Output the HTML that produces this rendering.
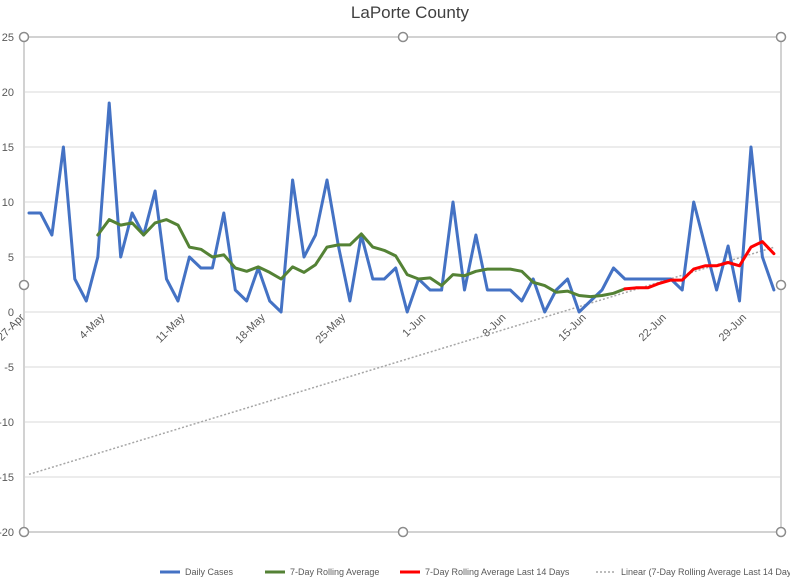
<!DOCTYPE html>
<html><head><meta charset="utf-8"><style>
html,body{margin:0;padding:0;background:#fff;}
svg{display:block;font-family:"Liberation Sans",sans-serif;}
</style></head><body>
<svg id="chart" width="790" height="586" viewBox="0 0 790 586" xmlns="http://www.w3.org/2000/svg">
<rect x="0" y="0" width="790" height="586" fill="#fff"/>
<text x="410" y="18" text-anchor="middle" font-size="17" fill="#404040">LaPorte County</text>
<g id="grid"></g>
<g id="yticks"></g>
<g id="xticks"></g>
<g id="series"></g>
<g id="frame"></g>
<g id="legend"></g>
</svg>
<script>
const yTicks=[25,20,15,10,5,0,-5,-10,-15,-20];
const dateLabels=["27-Apr","4-May","11-May","18-May","25-May","1-Jun","8-Jun","15-Jun","22-Jun","29-Jun"];
const dailyCases=[9,9,7,15,3,1,5,19,5,9,7,11,3,1,5,4,4,9,2,1,4,1,0,12,5,7,12,6,1,7,3,3,4,0,3,2,2,10,2,7,2,2,2,1,3,0,2,3,0,1,2,4,3,3,3,3,3,2,10,6,2,6,1,15,5,2];
const rollStart=6;
const rollingAvg=[7,8.4,7.9,8.1,7,8.1,8.4,7.9,5.9,5.7,5,5.2,4,3.7,4.1,3.6,3,4.1,3.6,4.3,5.9,6.1,6.1,7.1,5.9,5.6,5.1,3.4,3,3.1,2.4,3.4,3.3,3.7,3.9,3.9,3.9,3.7,2.7,2.4,1.8,1.9,1.5,1.4,1.5,1.7,2.1];
const lastStart=52;
const last14Avg=[2.1,2.2,2.2,2.6,2.9,2.9,3.9,4.2,4.2,4.5,4.2,5.9,6.4,5.3];

const NS="http://www.w3.org/2000/svg";
function mk(tag,attrs,parent){const e=document.createElementNS(NS,tag);for(const k in attrs)e.setAttribute(k,attrs[k]);parent.appendChild(e);return e;}
const X=i=>29+i*11.46;
const Y=v=>312-v*11;
const grid=document.getElementById('grid'),yt=document.getElementById('yticks'),xt=document.getElementById('xticks'),ser=document.getElementById('series'),fr=document.getElementById('frame'),lg=document.getElementById('legend');

yTicks.forEach(v=>{
  const l=mk('line',{x1:25,x2:780,y1:Y(v),y2:Y(v),stroke:'#d9d9d9','stroke-width':1},grid);
  
  
  const t=mk('text',{x:14,y:Y(v)+4,'text-anchor':'end','font-size':11,fill:'#595959'},yt);
  
  
  t.textContent=v;
});
dateLabels.forEach((d,k)=>{
  const x=X(k*7)-4;
  const t=mk('text',{x:x,y:318,'text-anchor':'end','font-size':11,fill:'#595959',transform:`rotate(-45 ${x} 318)`},xt);
  
  
  t.textContent=d;
});

// trendline: linear regression on last-14 series
let n=last14Avg.length,sx=0,sy=0,sxx=0,sxy=0;
last14Avg.forEach((v,j)=>{const i=lastStart+j;sx+=i;sy+=v;sxx+=i*i;sxy+=i*v;});
const slope=(n*sxy-sx*sy)/(n*sxx-sx*sx),icpt=(sy-slope*sx)/n;
const lastIdx=dailyCases.length-1;
const tl=mk('line',{x1:X(0),y1:Y(icpt),x2:X(lastIdx),y2:Y(icpt+slope*lastIdx),stroke:'#a6a6a6','stroke-width':1.5,'stroke-dasharray':'2 2'},ser);



function poly(vals,start,color,name){
  const p=vals.map((v,j)=>X(start+j).toFixed(1)+','+Y(v).toFixed(1)).join(' ');
  const e=mk('polyline',{points:p,fill:'none',stroke:color,'stroke-width':3,'stroke-linejoin':'round','stroke-linecap':'round'},ser);
  
  
}
poly(dailyCases,0,'#4472c4','daily-cases-line');
poly(rollingAvg,rollStart,'#548235','rolling-average-line');
poly(last14Avg,lastStart,'#ff0000','last-14-days-line');

const fb=mk('rect',{x:24,y:37,width:757,height:495,fill:'none',stroke:'#a6a6a6','stroke-width':1},fr);


[[24,37],[403,37],[781,37],[24,285],[781,285],[24,532],[403,532],[781,532]].forEach(([x,y])=>{
  const c=mk('circle',{cx:x,cy:y,r:4.5,fill:'#fff',stroke:'#8c8c8c','stroke-width':1.5},fr);
  
  
});

const legendItems=[["Daily Cases",'#4472c4',160,false],["7-Day Rolling Average",'#548235',265,false],["7-Day Rolling Average Last 14 Days",'#ff0000',400,false],["Linear (7-Day Rolling Average Last 14 Days)",'#a6a6a6',596,true]];
legendItems.forEach(([label,col,x,dash])=>{
  const l=mk('line',{x1:x,x2:x+20,y1:572,y2:572,stroke:col,'stroke-width':dash?1.5:3},lg);
  if(dash)l.setAttribute('stroke-dasharray','2 2');
  
  
  const t=mk('text',{x:x+25,y:575,'font-size':9,fill:'#595959'},lg);
  
  
  t.textContent=label;
});
</script>
</body></html>
